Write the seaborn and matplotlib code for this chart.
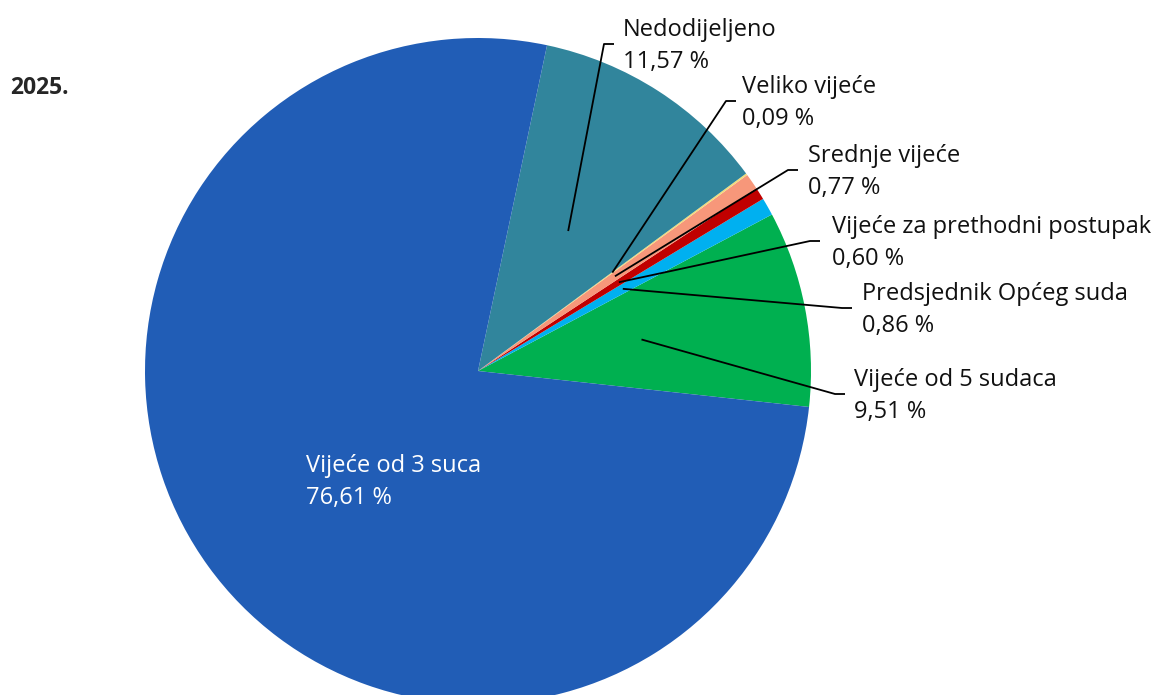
import numpy as np
import matplotlib.pyplot as plt
import seaborn as sns

sns.set_theme(style="white")
plt.rcParams['font.family'] = ['Open Sans', 'DejaVu Sans']

# data (counterclockwise, starting just below the 3 o'clock position)
categories = ['Vijeće od 5 sudaca', 'Predsjednik Općeg suda', 'Vijeće za prethodni postupak',
              'Srednje vijeće', 'Veliko vijeće', 'Nedodijeljeno', 'Vijeće od 3 suca']
shares = [9.51, 0.86, 0.60, 0.77, 0.09, 11.57, 76.61]
share_labels = ['9,51 %', '0,86 %', '0,60 %', '0,77 %', '0,09 %', '11,57 %', '76,61 %']
colors = ['#00B050', '#00B0F0', '#C00000', '#F7977A', '#F2DC7A', '#31859C', '#215DB6']

# label layout (pixel coords, y down): text x, text center y, elbow x
label_pos = {
    'Vijeće od 5 sudaca': (854, 394, 835),
    'Predsjednik Općeg suda': (862, 308, 842),
    'Vijeće za prethodni postupak': (832, 241, 810),
    'Srednje vijeće': (808, 170, 788),
    'Veliko vijeće': (742, 101, 726),
    'Nedodijeljeno': (623, 44, 604),
}

W, H = 1154, 695
fig = plt.figure(figsize=(W / 100, H / 100), dpi=100)
ax = fig.add_axes([0, 0, 1, 1])

cx, cy, r = 478, H - 371, 333
wedges, _ = ax.pie(shares, colors=colors, startangle=-6.2, counterclock=True,
                   center=(cx, cy), radius=r, frame=True,
                   wedgeprops=dict(linewidth=0))
ax.set_xlim(0, W)
ax.set_ylim(0, H)
ax.axis('off')

for w, cat, lab in zip(wedges, categories, share_labels):
    mid = np.deg2rad((w.theta1 + w.theta2) / 2)
    px, py = cx + 0.5 * r * np.cos(mid), cy + 0.5 * r * np.sin(mid)
    if cat in label_pos:
        tx, ty, ex = label_pos[cat]
        ty = H - ty
        ax.plot([px, ex, ex + 10], [py, ty, ty], color='black', lw=1.3, solid_capstyle='butt')
        ax.text(tx, ty - 2, f'{cat}\n{lab}', fontsize=17, va='center', ha='left',
                color='#111111', linespacing=1.47)
    else:
        ax.text(306, H - 482, f'{cat}\n{lab}', fontsize=17, va='center', ha='left',
                color='white', linespacing=1.47)

fig.text(10 / W, 1 - 88 / H, '2025.', fontsize=16.5, fontweight='bold', va='center', ha='left')

fig.savefig('out.png', dpi=100)
